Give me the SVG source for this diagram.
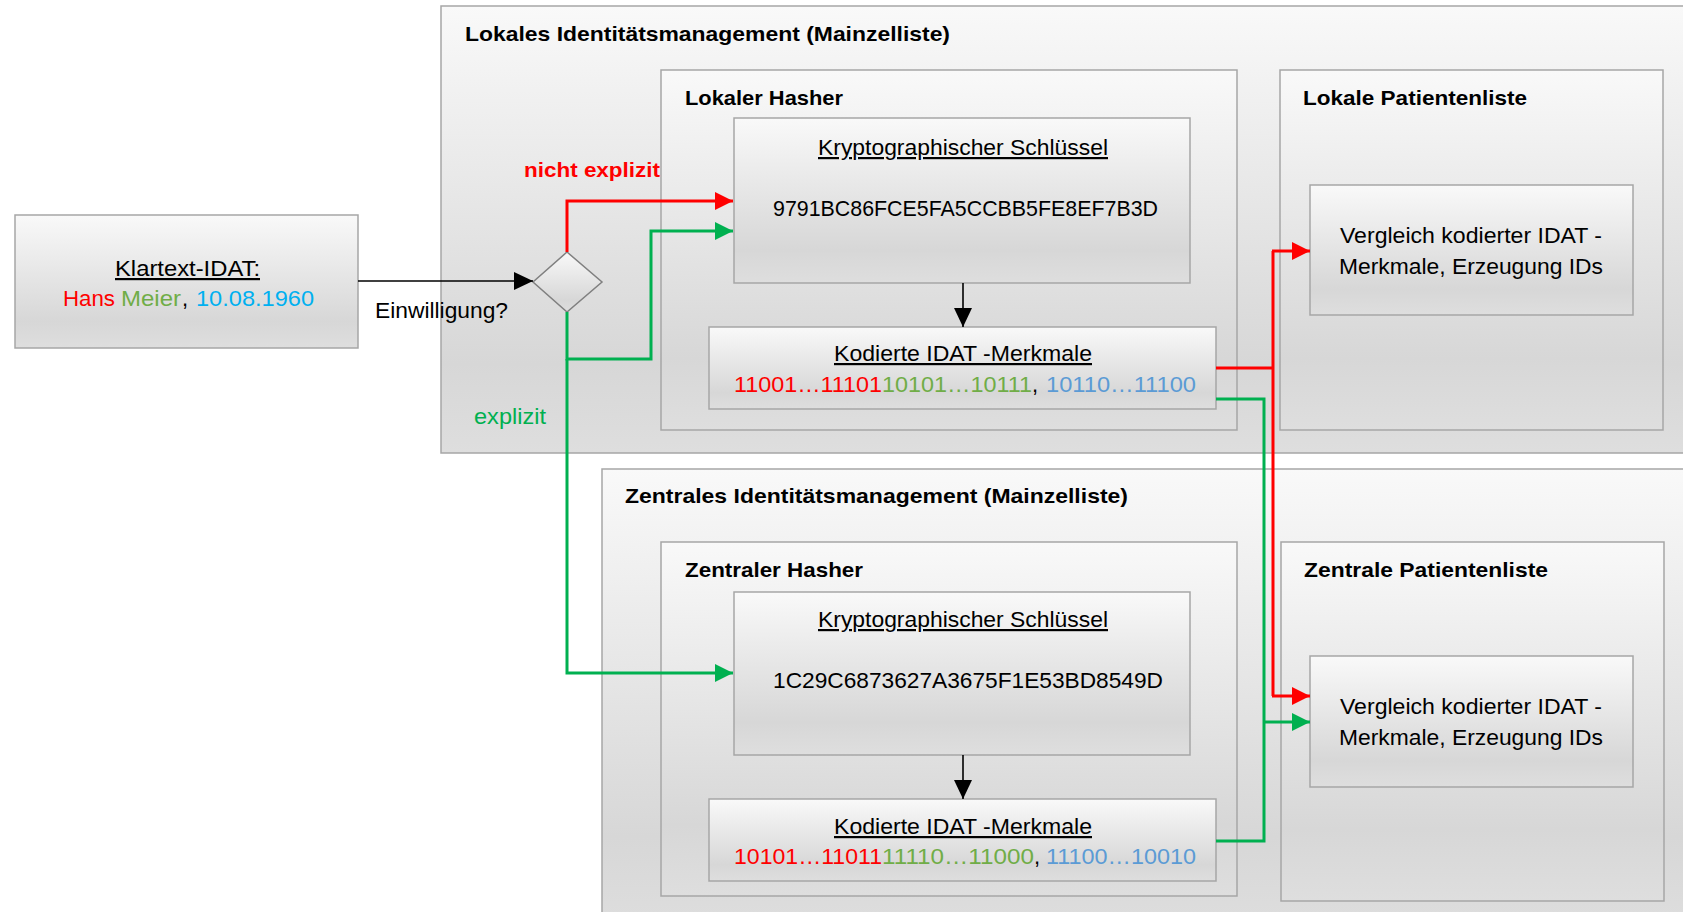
<svg xmlns="http://www.w3.org/2000/svg" width="1683" height="912" viewBox="0 0 1683 912">
  <style>
    .box { fill: url(#shade); stroke: #a6a6a6; stroke-width: 1.5; }
    .t { font-family: "Liberation Sans", Arial, sans-serif; font-size: 22px; fill: #000; }
    .b { font-weight: bold; font-size: 21px; }
    .u { text-decoration: underline; }
    .red { fill: #ff0000; }
    .lgreen { fill: #70ad47; }
    .cyan { fill: #00b0f0; }
    .blue { fill: #5b9bd5; }
    .green { fill: #00b050; }
    .wire { fill: none; stroke-width: 3; }
    .wr { stroke: #ff0000; }
    .wg { stroke: #00b050; }
    .wk { stroke: #000; stroke-width: 1.6; fill: none; }
  </style>
  <defs>
    <linearGradient id="shade" x1="0" y1="0" x2="0" y2="1">
      <stop offset="0" stop-color="#f9f9f9"/>
      <stop offset="0.8" stop-color="#d7d7d7"/>
      <stop offset="1" stop-color="#dedede"/>
    </linearGradient>
    <marker id="ah-k" markerUnits="userSpaceOnUse" markerWidth="19" markerHeight="18" refX="19" refY="9" orient="auto">
      <path d="M0,0 L19,9 L0,18 z" fill="#000"/>
    </marker>
    <marker id="ah-r" markerUnits="userSpaceOnUse" markerWidth="18" markerHeight="18" refX="18" refY="9" orient="auto">
      <path d="M0,0 L18,9 L0,18 z" fill="#ff0000"/>
    </marker>
    <marker id="ah-g" markerUnits="userSpaceOnUse" markerWidth="18" markerHeight="18" refX="18" refY="9" orient="auto">
      <path d="M0,0 L18,9 L0,18 z" fill="#00b050"/>
    </marker>
  </defs>

  <rect width="1683" height="912" fill="#fff"/>

  <!-- source record -->
  <g id="klartext">
    <rect class="box" x="15" y="215" width="343" height="133"/>
    <text class="t u" x="115" y="276" textLength="145" lengthAdjust="spacingAndGlyphs">Klartext-IDAT:</text>
    <text class="t red" x="63" y="306" textLength="52" lengthAdjust="spacingAndGlyphs">Hans</text>
    <text class="t lgreen" x="121" y="306" textLength="60" lengthAdjust="spacingAndGlyphs">Meier</text>
    <text class="t" x="182" y="306">,</text>
    <text class="t cyan" x="196" y="306" textLength="118" lengthAdjust="spacingAndGlyphs">10.08.1960</text>
  </g>

  <!-- local identity management -->
  <g id="lokal-idm">
    <rect class="box" x="441" y="6" width="1260" height="447"/>
    <text class="t b" x="465" y="41" textLength="485" lengthAdjust="spacingAndGlyphs">Lokales Identitätsmanagement (Mainzelliste)</text>
  </g>
  <g id="lokal-hasher">
    <rect class="box" x="661" y="70" width="576" height="360"/>
    <text class="t b" x="685" y="105" textLength="158" lengthAdjust="spacingAndGlyphs">Lokaler Hasher</text>
  </g>
  <g id="lokal-key">
    <rect class="box" x="734" y="118" width="456" height="165"/>
    <text class="t u" x="818" y="155" font-size="21" textLength="290" lengthAdjust="spacingAndGlyphs">Kryptographischer Schlüssel</text>
    <text class="t" x="773" y="216" font-size="21.5" textLength="385" lengthAdjust="spacingAndGlyphs">9791BC86FCE5FA5CCBB5FE8EF7B3D</text>
  </g>
  <g id="lokal-coded">
    <rect class="box" x="709" y="327" width="507" height="82"/>
    <text class="t u" x="834" y="361" textLength="258" lengthAdjust="spacingAndGlyphs">Kodierte IDAT -Merkmale</text>
    <text class="t red" x="734" y="392" textLength="148" lengthAdjust="spacingAndGlyphs">11001…11101</text>
    <text class="t lgreen" x="882" y="392" textLength="150" lengthAdjust="spacingAndGlyphs">10101…10111</text>
    <text class="t" x="1032" y="392">,</text>
    <text class="t blue" x="1046" y="392" textLength="150" lengthAdjust="spacingAndGlyphs">10110…11100</text>
  </g>
  <g id="lokal-patients">
    <rect class="box" x="1280" y="70" width="383" height="360"/>
    <text class="t b" x="1303" y="105" textLength="224" lengthAdjust="spacingAndGlyphs">Lokale Patientenliste</text>
  </g>
  <g id="lokal-compare">
    <rect class="box" x="1310" y="185" width="323" height="130"/>
    <text class="t" x="1340" y="243" textLength="262" lengthAdjust="spacingAndGlyphs">Vergleich kodierter IDAT -</text>
    <text class="t" x="1339" y="274" textLength="264" lengthAdjust="spacingAndGlyphs">Merkmale, Erzeugung IDs</text>
  </g>

  <!-- central identity management -->
  <g id="zentral-idm">
    <rect class="box" x="602" y="469" width="1100" height="460"/>
    <text class="t b" x="625" y="503" textLength="503" lengthAdjust="spacingAndGlyphs">Zentrales Identitätsmanagement (Mainzelliste)</text>
  </g>
  <g id="zentral-hasher">
    <rect class="box" x="661" y="542" width="576" height="354"/>
    <text class="t b" x="685" y="577" textLength="178" lengthAdjust="spacingAndGlyphs">Zentraler Hasher</text>
  </g>
  <g id="zentral-key">
    <rect class="box" x="734" y="592" width="456" height="163"/>
    <text class="t u" x="818" y="627" font-size="21" textLength="290" lengthAdjust="spacingAndGlyphs">Kryptographischer Schlüssel</text>
    <text class="t" x="773" y="688" font-size="21.5" textLength="390" lengthAdjust="spacingAndGlyphs">1C29C6873627A3675F1E53BD8549D</text>
  </g>
  <g id="zentral-coded">
    <rect class="box" x="709" y="799" width="507" height="82"/>
    <text class="t u" x="834" y="834" textLength="258" lengthAdjust="spacingAndGlyphs">Kodierte IDAT -Merkmale</text>
    <text class="t red" x="734" y="864" textLength="148" lengthAdjust="spacingAndGlyphs">10101…11011</text>
    <text class="t lgreen" x="882" y="864" textLength="152" lengthAdjust="spacingAndGlyphs">11110…11000</text>
    <text class="t" x="1034" y="864">,</text>
    <text class="t blue" x="1046" y="864" textLength="150" lengthAdjust="spacingAndGlyphs">11100…10010</text>
  </g>
  <g id="zentral-patients">
    <rect class="box" x="1281" y="542" width="383" height="359"/>
    <text class="t b" x="1304" y="577" textLength="244" lengthAdjust="spacingAndGlyphs">Zentrale Patientenliste</text>
  </g>
  <g id="zentral-compare">
    <rect class="box" x="1310" y="656" width="323" height="131"/>
    <text class="t" x="1340" y="714" textLength="262" lengthAdjust="spacingAndGlyphs">Vergleich kodierter IDAT -</text>
    <text class="t" x="1339" y="745" textLength="264" lengthAdjust="spacingAndGlyphs">Merkmale, Erzeugung IDs</text>
  </g>

  <!-- consent decision -->
  <g id="decision">
    <polygon points="567,252 602,282 567,312 533,282" fill="url(#shade)" stroke="#808080" stroke-width="1.5"/>
  </g>

  <!-- connectors -->
  <g id="connectors">
    <path class="wk" d="M358,281 H533" marker-end="url(#ah-k)"/>
    <text class="t" x="375" y="318" font-size="20" textLength="133" lengthAdjust="spacingAndGlyphs">Einwilligung?</text>

    <path class="wire wr" d="M567,252 V201 H733" marker-end="url(#ah-r)"/>
    <text class="t b red" x="524" y="177" font-size="20" textLength="136" lengthAdjust="spacingAndGlyphs">nicht explizit</text>

    <path class="wire wg" d="M567,312 V359 H651 V231 H733" marker-end="url(#ah-g)"/>
    <path class="wire wg" d="M567,359 V673 H733" marker-end="url(#ah-g)"/>
    <text class="t green" x="474" y="424" font-size="21" textLength="72" lengthAdjust="spacingAndGlyphs">explizit</text>

    <path class="wk" d="M963,283 V327" marker-end="url(#ah-k)"/>
    <path class="wk" d="M963,755 V799" marker-end="url(#ah-k)"/>

    <path class="wire wr" d="M1216,368 H1273"/>
    <path class="wire wr" d="M1273,251 V696"/>
    <path class="wire wr" d="M1272,251 H1310" marker-end="url(#ah-r)"/>
    <path class="wire wr" d="M1272,696 H1310" marker-end="url(#ah-r)"/>

    <path class="wire wg" d="M1216,399 H1264 V841 H1216"/>
    <path class="wire wg" d="M1263,722 H1310" marker-end="url(#ah-g)"/>
  </g>
</svg>
